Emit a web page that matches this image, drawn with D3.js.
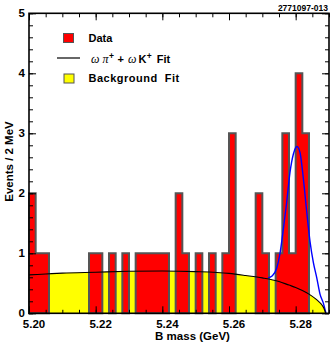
<!DOCTYPE html>
<html>
<head>
<meta charset="utf-8">
<script src="https://cdn.jsdelivr.net/npm/d3@7"></script>
<style>
  body { margin: 0; background: #fff; }
  svg { display: block; }
  text { font-family: "Liberation Sans", Arial, sans-serif; font-weight: bold; }
</style>
</head>
<body>
<div id="chart"></div>
<script>
// histogram: 2 MeV bins starting at 5.200 GeV
const binStart = 5.200,
    binWidth = 0.002;
const counts = [2, 1, 1, 0, 0, 0, 0, 0, 0, 1, 1, 0, 1, 0, 1, 0, 1, 1, 1, 1, 1, 0, 2, 1, 0,
    1, 0, 1, 0, 1, 3, 0, 0, 0, 2, 1, 0, 1, 3, 1, 4, 3, 0, 0, 0];

// background fit
const bkgMass = [5.200, 5.205, 5.210, 5.220, 5.230, 5.240, 5.250, 5.260, 5.265, 5.270,
    5.275, 5.278, 5.280, 5.282, 5.284, 5.286, 5.287, 5.288, 5.2885, 5.289];
const bkgValue = [0.64, 0.655, 0.67, 0.685, 0.70, 0.705, 0.695, 0.665, 0.63, 0.59,
    0.53, 0.47, 0.43, 0.38, 0.32, 0.24, 0.19, 0.13, 0.08, 0.0];

// signal + background fit
const sigMass = [5.2717, 5.2729, 5.2743, 5.2753, 5.2763, 5.2773, 5.2783, 5.2793, 5.2804,
    5.2813, 5.2823, 5.2833, 5.2843, 5.2853, 5.2863, 5.2873, 5.2883, 5.2891];
const sigValue = [0.59, 0.62, 0.75, 1.0, 1.4, 1.85, 2.35, 2.65, 2.78,
    2.68, 2.25, 1.7, 1.2, 0.85, 0.6, 0.32, 0.17, 0.0];

const xMajorTicks = [5.20, 5.22, 5.24, 5.26, 5.28];
const yMajorTicks = [0, 1, 2, 3, 4, 5];

const width = 336,
    height = 346,
    plotLeft = 29, plotRight = 329, plotTop = 13.3, plotBottom = 313.3;

const x = d3.scaleLinear().domain([5.20, 5.29]).range([plotLeft, plotRight]);
const y = d3.scaleLinear().domain([0, 5]).range([plotBottom, plotTop]);

const svg = d3.select('#chart').append('svg')
    .attr('width', width)
    .attr('height', height);

// background fill
const bkgPts = bkgMass.map((m, i) => [m, bkgValue[i]]);
svg.append('path')
    .datum(bkgPts)
    .attr('fill', '#ffff00')
    .attr('d', d3.area().x(d => x(d[0])).y0(y(0)).y1(d => y(d[1])).curve(d3.curveMonotoneX));

// histogram outline: one path per run of non-empty bins
const runs = [];
let cur = null;
counts.forEach((c, i) => {
    if (c > 0) {
        if (!cur) { cur = []; runs.push(cur); }
        cur.push(i);
    } else {
        cur = null;
    }
});
runs.forEach(run => {
    const p = d3.path();
    p.moveTo(x(binStart + run[0] * binWidth), y(0));
    run.forEach(i => {
        p.lineTo(x(binStart + i * binWidth), y(counts[i]));
        p.lineTo(x(binStart + (i + 1) * binWidth), y(counts[i]));
    });
    p.lineTo(x(binStart + (run[run.length - 1] + 1) * binWidth), y(0));
    p.closePath();
    svg.append('path')
        .attr('d', p.toString())
        .attr('fill', '#ff0000')
        .attr('stroke', '#555')
        .attr('stroke-width', 2);
});

// fit curves
const line = d3.line().x(d => x(d[0])).y(d => y(d[1])).curve(d3.curveMonotoneX);
svg.append('path')
    .datum(sigMass.map((m, i) => [m, sigValue[i]]))
    .attr('fill', 'none')
    .attr('stroke', '#0000ff')
    .attr('stroke-width', 1.4)
    .attr('d', line);
svg.append('path')
    .datum(bkgPts)
    .attr('fill', 'none')
    .attr('stroke', '#000')
    .attr('stroke-width', 1.1)
    .attr('d', line);

// axes, ticks pointing inward
function styleAxis(g) {
    g.select('.domain').remove();
    g.selectAll('line').attr('stroke', '#000').attr('stroke-width', 1);
}
const xMinor = x.ticks(18),
    yMinor = y.ticks(25);

svg.append('g').attr('transform', `translate(0,${plotBottom})`)
    .call(d3.axisBottom(x).tickValues(xMinor).tickSizeInner(-3.5).tickSizeOuter(0).tickFormat(''))
    .call(styleAxis);
svg.append('g').attr('transform', `translate(0,${plotTop})`)
    .call(d3.axisTop(x).tickValues(xMinor).tickSizeInner(-4).tickSizeOuter(0).tickFormat(''))
    .call(styleAxis);
svg.append('g').attr('transform', `translate(${plotLeft},0)`)
    .call(d3.axisLeft(y).tickValues(yMinor).tickSizeInner(-4).tickSizeOuter(0).tickFormat(''))
    .call(styleAxis);
svg.append('g').attr('transform', `translate(${plotRight},0)`)
    .call(d3.axisRight(y).tickValues(yMinor).tickSizeInner(-4).tickSizeOuter(0).tickFormat(''))
    .call(styleAxis);

const xAxis = svg.append('g').attr('transform', `translate(0,${plotBottom})`)
    .call(d3.axisBottom(x).tickValues(xMajorTicks).tickSizeInner(-7).tickSizeOuter(0)
        .tickPadding(6.2).tickFormat(d3.format('.2f')))
    .call(styleAxis);
xAxis.selectAll('text').attr('dx', 4.5).attr('fill', '#000')
    .style('font-size', '11.5px').style('font-family', '"Liberation Sans", Arial, sans-serif');
svg.append('g').attr('transform', `translate(0,${plotTop})`)
    .call(d3.axisTop(x).tickValues(xMajorTicks).tickSizeInner(-7).tickSizeOuter(0).tickFormat(''))
    .call(styleAxis);
const yAxis = svg.append('g').attr('transform', `translate(${plotLeft},0)`)
    .call(d3.axisLeft(y).tickValues(yMajorTicks).tickSizeInner(-7).tickSizeOuter(0)
        .tickPadding(4).tickFormat(d3.format('d')))
    .call(styleAxis);
yAxis.selectAll('text').attr('fill', '#000')
    .style('font-size', '11.5px').style('font-family', '"Liberation Sans", Arial, sans-serif');
svg.append('g').attr('transform', `translate(${plotRight},0)`)
    .call(d3.axisRight(y).tickValues(yMajorTicks).tickSizeInner(-7).tickSizeOuter(0).tickFormat(''))
    .call(styleAxis);

// frame
svg.append('rect')
    .attr('x', plotLeft).attr('y', plotTop)
    .attr('width', plotRight - plotLeft).attr('height', plotBottom - plotTop)
    .attr('fill', 'none').attr('stroke', '#000').attr('stroke-width', 1.6);

// titles
svg.append('text')
    .attr('x', 192.5).attr('y', 340)
    .attr('text-anchor', 'middle')
    .style('font-size', '11.5px')
    .text('B mass (GeV)');
svg.append('text')
    .attr('transform', 'translate(13,161.5) rotate(-90)')
    .attr('text-anchor', 'middle')
    .style('font-size', '11.5px')
    .text('Events / 2 MeV');
svg.append('text')
    .attr('x', 328).attr('y', 11)
    .attr('text-anchor', 'end')
    .style('font-size', '8.5px')
    .text('2771097-013');

// legend
const legend = svg.append('g');
legend.append('rect')
    .attr('x', 63.5).attr('y', 33.5).attr('width', 10).attr('height', 9)
    .attr('fill', '#ff0000').attr('stroke', '#555').attr('stroke-width', 1);
legend.append('text')
    .attr('x', 88.5).attr('y', 42.3)
    .style('font-size', '11px')
    .text('Data');
legend.append('line')
    .attr('x1', 57).attr('x2', 80).attr('y1', 58).attr('y2', 58)
    .attr('stroke', '#000').attr('stroke-width', 1.2);
const fitLabel = legend.append('text')
    .attr('x', 91).attr('y', 63)
    .style('font-size', '11px');
const greek = t => t.style('font-family', '"Liberation Serif", serif')
    .style('font-style', 'italic').style('font-weight', 'normal').style('font-size', '12px');
fitLabel.append('tspan').text('ω').call(greek);
fitLabel.append('tspan').attr('dx', 3).text('π').call(greek);
fitLabel.append('tspan').attr('dy', -4).attr('dx', 0.5).style('font-size', '8.5px').text('+');
fitLabel.append('tspan').attr('dy', 4).attr('dx', 3.5).text('+');
fitLabel.append('tspan').attr('dx', 4).text('ω').call(greek);
fitLabel.append('tspan').attr('dx', 2).text('K');
fitLabel.append('tspan').attr('dy', -4).attr('dx', 0.5).style('font-size', '8.5px').text('+');
fitLabel.append('tspan').attr('dy', 4).attr('dx', 5).text('Fit');

legend.append('rect')
    .attr('x', 64).attr('y', 74).attr('width', 10).attr('height', 9)
    .attr('fill', '#ffff00').attr('stroke', '#555').attr('stroke-width', 1);
legend.append('text')
    .attr('x', 88.5).attr('y', 82)
    .style('font-size', '11px')
    .style('letter-spacing', '0.5px')
    .style('white-space', 'pre')
    .text('Background  Fit');
</script>
</body>
</html>
